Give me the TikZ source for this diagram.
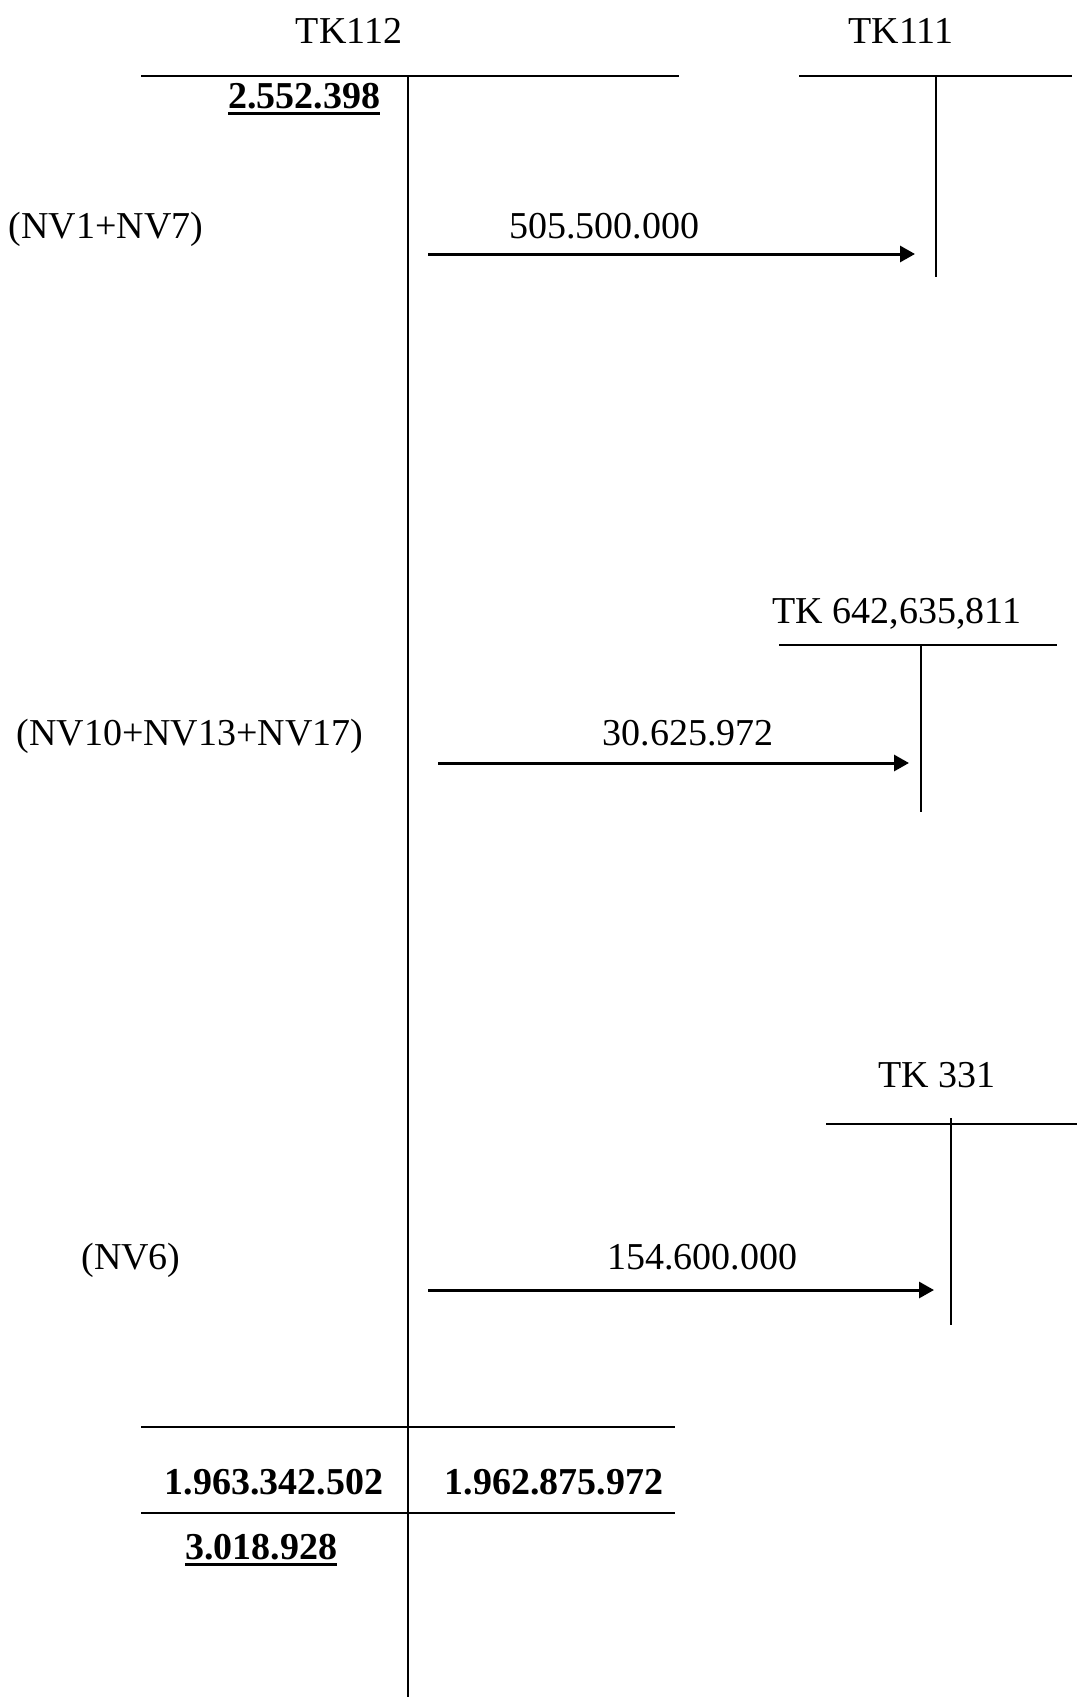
\documentclass[tikz,border=0pt]{standalone}
\usepackage{fontspec}
\setmainfont{Liberation Serif}
\usetikzlibrary{arrows.meta,positioning}
\tikzset{
    ledger/.style  = {x=0.5pt, y=-0.5pt, >={Triangle[length=7.5pt,width=8pt]}},
    rule/.style    = {line width=0.9pt},
    stem/.style    = {line width=0.8pt},
    flow/.style    = {->, line width=1.5pt},
    txt/.style     = {font=\fontsize{19}{22}\selectfont, inner sep=0pt, anchor=base},
    num/.style     = {txt, font=\fontsize{19}{22}\selectfont\bfseries}
}
\newcommand\ulnum[1]{\setbox0=\hbox{#1}\rlap{\rule[-3.7pt]{\wd0}{1.6pt}}\box0}

\begin{document}
\begin{tikzpicture}[ledger]
\useasboundingbox (0,0) rectangle (1077,1697);

% Main account TK112
\node[txt] (bank) at (349,43) {TK112};
\coordinate (bank-left)  at (141,76);
\coordinate (bank-right) at (679,76);
\coordinate (bank-top)   at (408,76);
\coordinate (bank-bot)   at (408,1697);
\draw[rule] (bank-left) -- (bank-right);
\draw[stem] (bank-top) -- (bank-bot);
\node[num] (opening) at (304,108) {\ulnum{2.552.398}};

% Contra accounts: title, top rule, stem
\foreach \name/\title/\tx/\ty/\xa/\xb/\sx/\y/\ytop/\ybot in {
    cash/TK111/901/43/799/1072/936/76/76/277,
    cost/{TK 642,635,811}/897/623/779/1057/921/645/645/812,
    payable/{TK 331}/937/1087/826/1077/951/1124/1118/1325} {
    \node[txt] (\name) at (\tx,\ty) {\title};
    \coordinate (\name-left)  at (\xa,\y);
    \coordinate (\name-right) at (\xb,\y);
    \coordinate (\name-top)   at (\sx,\ytop);
    \coordinate (\name-bot)   at (\sx,\ybot);
    \draw[rule] (\name-left) -- (\name-right);
    \draw[stem] (\name-top) -- (\name-bot);
}

% Credit entries of TK112
\foreach \name/\ref/\rx/\amount/\ax/\by/\y/\xa/\xb in {
    cash/(NV1+NV7)/106/505.500.000/604/238/254/428/915,
    cost/(NV10+NV13+NV17)/190/30.625.972/688/745/763/438/909,
    payable/(NV6)/131/154.600.000/702/1269/1290/428/934} {
    \node[txt] (ref-\name) at (\rx,\by) {\ref};
    \node[txt] (amt-\name) at (\ax,\by) {\amount};
    \coordinate (from-\name) at (\xa,\y);
    \coordinate (to-\name)   at (\xb,\y);
    \draw[flow] (from-\name) -- (to-\name);
}

% Totals and closing balance
\coordinate (sum-left)   at (141,1427);
\coordinate (sum-right)  at (675,1427);
\coordinate (end-left)   at (141,1513);
\coordinate (end-right)  at (675,1513);
\draw[rule] (sum-left) -- (sum-right);
\draw[rule] (end-left) -- (end-right);
\node[num] (debit)   at (274,1494) {1.963.342.502};
\node[num] (credit)  at (554,1494) {1.962.875.972};
\node[num] (closing) at (261,1559) {\ulnum{3.018.928}};

\end{tikzpicture}
\end{document}
